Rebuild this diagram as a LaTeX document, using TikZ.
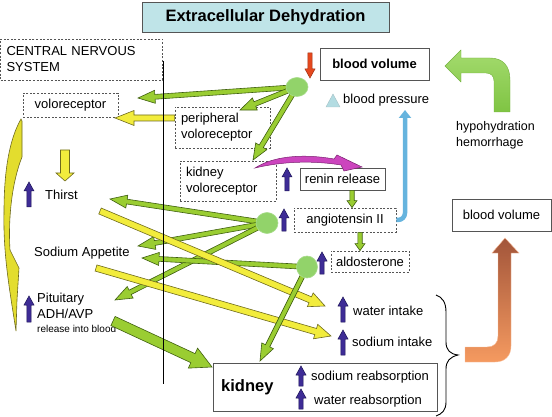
\documentclass[tikz,border=0pt]{standalone}
\usepackage{fontspec}
\setmainfont{Liberation Sans}
\usetikzlibrary{calc,arrows.meta,shapes.geometric}
\definecolor{gfill}{HTML}{9ACD32}
\definecolor{gdraw}{HTML}{3F5F10}
\definecolor{yfill}{HTML}{F2EC3C}
\definecolor{ydraw}{HTML}{6E6A1E}
\definecolor{bfill}{HTML}{3E2C96}
\definecolor{bdraw}{HTML}{1C1456}
\definecolor{cfill}{HTML}{92D36A}
\definecolor{cdraw}{HTML}{A9DC8C}
\definecolor{tfill}{HTML}{BFE4E8}
\definecolor{lblue}{HTML}{66B4DE}
\definecolor{trif}{HTML}{B3DCE2}
\definecolor{redar}{HTML}{E5481E}
\definecolor{magf}{HTML}{CC45BE}
\definecolor{magd}{HTML}{7A2070}
\definecolor{hooka}{HTML}{A4DB6E}
\definecolor{hookb}{HTML}{7FC443}
\definecolor{ora}{HTML}{F59A60}
\definecolor{brn}{HTML}{A2553A}
\definecolor{boxd}{HTML}{555555}
\definecolor{crf}{HTML}{E3DD2E}
\newcommand\blkarrow[6]{%
  \path[#1] let \p1=(#2), \p2=(#3), \n1={atan2(\y2-\y1,\x2-\x1)} in
    ($(\p1)+(\n1+90:#4)$) -- ($(\p2)+(\n1+180:#6)+(\n1+90:#4)$) --
    ($(\p2)+(\n1+180:#6)+(\n1+90:#5)$) -- (\p2) --
    ($(\p2)+(\n1+180:#6)+(\n1-90:#5)$) -- ($(\p2)+(\n1+180:#6)+(\n1-90:#4)$) --
    ($(\p1)+(\n1-90:#4)$) -- cycle;}
\newcommand\uparr[4]{%
  \coordinate (#1s) at (#2,#4);
  \coordinate (#1t) at (#2,#3);
  \blkarrow{barr}{#1s}{#1t}{2.2pt}{5pt}{9pt}}
\begin{document}
\begin{tikzpicture}[x=1pt,y=-1pt,
  txt/.style={inner sep=0pt, font=\fontsize{13}{16}\selectfont, text height=9.3pt, text depth=0pt, anchor=west},
  dbox/.style={draw=boxd, line width=0.8pt, dash pattern=on 2pt off 1.6pt, inner sep=0pt, font=\fontsize{13}{16}\selectfont},
  sbox/.style={draw=boxd, line width=0.9pt, inner sep=0pt, fill=white, font=\fontsize{13}{16}\selectfont},
  garr/.style={fill=gfill, draw=gdraw, line width=0.6pt},
  yarr/.style={fill=yfill, draw=ydraw, line width=0.6pt},
  barr/.style={fill=bfill, draw=bdraw, line width=0.5pt},
  rarr/.style={fill=redar, draw=redar!70!black, line width=0.5pt},
  gcirc/.style={ellipse, fill=cfill, draw=cdraw, line width=0.6pt, inner sep=0pt},
]
\useasboundingbox (0,0) rectangle (552,417);

% ---- boxes
\node[draw=boxd, line width=1pt, fill=tfill, minimum width=247pt, minimum height=30pt, inner sep=0pt,
      font=\bfseries\fontsize{16.5}{19}\selectfont] (title) at (265.5,17.5) {Extracellular Dehydration};
\node[dbox, minimum width=162pt, minimum height=41pt, text width=150pt, inner xsep=6pt, align=left] (cns) at (81.5,59.5) {CENTRAL NERVOUS\\SYSTEM};
\node[dbox, minimum width=95pt, minimum height=24pt] (vol) at (70.5,105) {voloreceptor};
\node[dbox, minimum width=95pt, minimum height=41pt, text width=83pt, inner xsep=6pt, align=left] (pv) at (222.5,127.5) {peripheral\\voloreceptor};
\node[dbox, minimum width=96pt, minimum height=40pt, text width=84pt, inner xsep=6pt, align=left,
      font=\fontsize{13}{15.5}\selectfont] (kv) at (228,181) {kidney\\voloreceptor};
\node[sbox, minimum width=109pt, minimum height=32pt, font=\bfseries\fontsize{13}{16}\selectfont] (bv) at (374.5,64) {blood volume};
\node[sbox, minimum width=85pt, minimum height=22pt] (renin) at (342.5,179) {renin release};
\node[dbox, minimum width=102pt, minimum height=24pt] (ang) at (345,220) {angiotensin II};
\node[dbox, minimum width=78pt, minimum height=21pt] (ald) at (370,261.5) {aldosterone};
\node[sbox, minimum width=99pt, minimum height=32pt] (bv2) at (501.5,215) {blood volume};
\node[sbox, minimum width=224pt, minimum height=48pt] (kid) at (325,387) {};

% ---- free texts
\node[txt, font=\bfseries\fontsize{16.5}{19}\selectfont, text height=11.8pt] (kidt) at (221,386) {kidney};
\node[txt] (sra) at (311,376) {sodium reabsorption};
\node[txt] (wra) at (314,400) {water reabsorption};
\node[txt] (thirst) at (45,195) {Thirst};
\node[txt] (napp) at (34,252) {Sodium Appetite};
\node[txt] (pit) at (37,298) {Pituitary};
\node[txt] (adh) at (37,314) {ADH/AVP};
\node[txt, font=\fontsize{10}{12}\selectfont, text height=7.2pt] (rel) at (37,329) {release into blood};
\node[txt] (bp) at (343,99) {blood pressure};
\node[txt, font=\fontsize{12.5}{15}\selectfont, text height=9pt] (hypo) at (456,126) {hypohydration};
\node[txt, font=\fontsize{12.5}{15}\selectfont, text height=9pt] (hem) at (456,142) {hemorrhage};
\node[txt] (wi) at (353,311) {water intake};
\node[txt] (si) at (352,342) {sodium intake};

% ---- big shapes
\filldraw[fill=crf, draw=ydraw, line width=0.6pt] (21,119) -- (22,121) -- (22,157)
  .. controls (12,182) and (8,218) .. (10,250) -- (19,268) -- (17,300) -- (16,331)
  .. controls (10,292) and (3,255) .. (4,212) .. controls (4,172) and (9,140) .. (21,119) -- cycle;
\path[draw=hookb!90!black, line width=0.4pt, top color=hooka, bottom color=hookb]
  (510,112) -- (510,80) .. controls (510,66) and (503,58) .. (490,58) -- (461,58) -- (461,50)
  -- (445,66) -- (461,82) -- (461,73) -- (486,73) .. controls (491,73) and (494,76) .. (494,81)
  -- (494,112) -- cycle;
\path[draw=ora!60!white, line width=0.4pt, top color=brn, bottom color=ora]
  (465,347) -- (487,347) .. controls (494,347) and (498,343) .. (498,336) -- (498,253) -- (492,253)
  -- (505,238) -- (519,253) -- (511,253) -- (511,346) .. controls (511,356) and (505,362) .. (495,362)
  -- (465,362) -- cycle;
\filldraw[fill=trif, draw=trif!70!gray, line width=0.4pt] (333,94) -- (340,107) -- (326,107) -- cycle;
\filldraw[fill=magf, draw=magd, line width=0.5pt] (255,168) .. controls (272,157) and (300,153) .. (334,159)
  -- (337,155) -- (362,167) -- (344,171) -- (341,165) .. controls (310,160) and (280,162) .. (255,168) -- cycle;
\draw[line width=0.9pt] (436,295) .. controls (442,297) and (446,302) .. (446,312) -- (446,342)
  .. controls (446,350) and (450,354) .. (458,355) .. controls (450,357) and (446,361) .. (446,369)
  -- (446,402) .. controls (446,410) and (442,414) .. (436,416);

% ---- connectors
\coordinate (c1) at (297,87);
\coordinate (c2) at (267,223);
\coordinate (c3) at (307,267);
\coordinate (aT) at (138,98);
\coordinate (bT) at (240,110);
\coordinate (cT) at (253,160);
\coordinate (dT) at (110,199);
\coordinate (eT) at (138,246);
\coordinate (fT) at (115,300);
\coordinate (gT) at (142,258);
\coordinate (hT) at (260,361);
\coordinate (iS) at ([yshift=9.5pt]pv.west);
\coordinate (iT) at (115,118);
\coordinate (jS) at (100,211);
\coordinate (jT) at (325,306);
\coordinate (kS) at (96,268);
\coordinate (kT) at (331,336);
\coordinate (lS) at (113,321);
\coordinate (lT) at (212,367);

\blkarrow{garr}{c1}{aT}{2.4pt}{6.5pt}{17pt}
\blkarrow{garr}{c1}{bT}{2.4pt}{6.5pt}{16pt}
\blkarrow{garr}{c1}{cT}{2.4pt}{6.5pt}{16pt}
\blkarrow{garr}{c2}{dT}{2.4pt}{6.5pt}{17pt}
\blkarrow{garr}{c2}{eT}{2.4pt}{6.5pt}{17pt}
\blkarrow{garr}{c2}{fT}{2.4pt}{6.5pt}{17pt}
\blkarrow{garr}{c3}{gT}{2.4pt}{6.5pt}{17pt}
\blkarrow{yarr}{iS}{iT}{3pt}{7.5pt}{19pt}
\blkarrow{yarr}{jS}{jT}{3.2pt}{7.5pt}{16pt}
\blkarrow{yarr}{kS}{kT}{3.2pt}{7.5pt}{16pt}
\blkarrow{garr}{c3}{hT}{2.4pt}{6.5pt}{17pt}
\blkarrow{garr}{lS}{lT}{5pt}{11pt}{21pt}

\node[gcirc, minimum width=22pt, minimum height=19pt] (c1n) at (c1) {};
\node[gcirc, minimum width=22pt, minimum height=21pt] (c2n) at (c2) {};
\node[gcirc, minimum width=21pt, minimum height=22pt] (c3n) at (c3) {};

% small arrows
\coordinate (ydS) at (65,150);
\coordinate (ydT) at (65,181);
\blkarrow{yarr}{ydS}{ydT}{4.5pt}{9pt}{8pt}
\coordinate (rS) at (310,53);
\coordinate (rT) at (310,78);
\blkarrow{rarr}{rS}{rT}{2.2pt}{5pt}{9pt}
\coordinate (g1s) at ([xshift=9.5pt]renin.south);
\coordinate (g1t) at ([xshift=7pt]ang.north);
\blkarrow{garr}{g1s}{g1t}{2.2pt}{5pt}{7pt}
\coordinate (g2s) at ([xshift=15pt]ang.south);
\coordinate (g2t) at ([xshift=-10pt]ald.north);
\blkarrow{garr}{g2s}{g2t}{2.2pt}{5pt}{7pt}

\uparr{ba}{29}{182}{207}
\uparr{bb}{29}{296}{322}
\uparr{bc}{287}{168}{191}
\uparr{bd}{284}{209}{231}
\uparr{be}{322}{252}{274}
\uparr{bf}{343}{297}{322}
\uparr{bg}{343}{330}{355}
\uparr{bh}{301}{366}{386}
\uparr{bi}{301}{389}{409}

\coordinate (bpT) at (405,110);
\draw[lblue, line width=4.5pt, rounded corners=7pt, -{Triangle[length=8pt,width=12pt]}] (ang.east) -- (405,220) -- (bpT);

\draw[line width=0.6pt] (163,61) -- (163,384);
\end{tikzpicture}
\end{document}
